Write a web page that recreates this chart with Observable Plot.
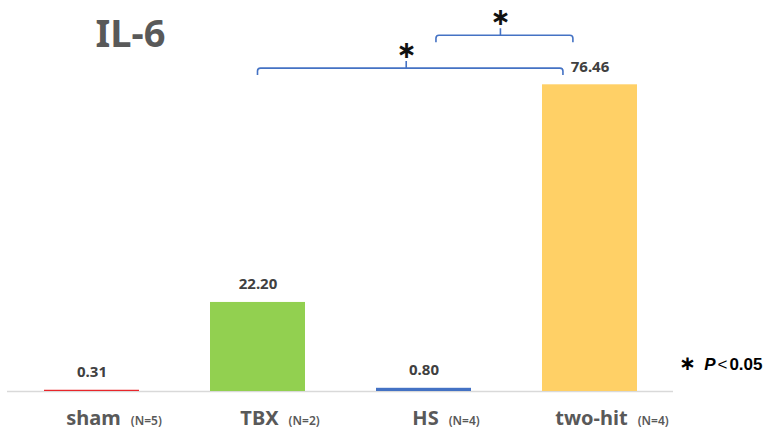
<!DOCTYPE html>
<html><head><meta charset="utf-8">
<script src="https://cdn.jsdelivr.net/npm/d3@7"></script>
<script src="https://cdn.jsdelivr.net/npm/@observablehq/plot@0.6"></script>
<style>
body{margin:0;background:#fff;}
#chart{width:763px;height:434px;}
</style>
</head><body><div id="chart"></div>
<script>
// ---- data ----
const title = "IL-6";
const categories = ["sham", "TBX", "HS", "two-hit"];
const sampleSizes = ["(N=5)", "(N=2)", "(N=4)", "(N=4)"];
const values = [0.31, 22.20, 0.80, 76.46];
const valueLabels = ["0.31", "22.20", "0.80", "76.46"];
const barColors = ["#e8262b", "#92d050", "#4472c4", "#ffd066"];
const comparisonsFrom = ["TBX", "HS"];
const comparisonsTo = ["two-hit", "two-hit"];
const comparisonLevels = [80.5, 88.7];
const comparisonMarks = ["∗", "∗"];
const noteParts = ["∗", "P", "<", "0.05"];

// ---- styles / layout ----
const bracketShift = [[0, -0.16], [0.075, -0.10]]; // fraction of band step
const FONT = "'Noto Sans', 'Noto Sans CJK JP', sans-serif";
const STAR_FONT = "'DejaVu Sans', sans-serif";
const table = categories.map((c, i) => ({category: c, value: values[i], label: valueLabels[i], n: sampleSizes[i], color: barColors[i]}));

function bracketMark(index, scales, vals, dims) {
  const x = scales.x, y = scales.y;
  const step = x.step ? x.step() : (dims.width - dims.marginLeft - dims.marginRight) / categories.length;
  const bw = x.bandwidth ? x.bandwidth() : 0;
  const g = d3.create("svg:g");
  comparisonsFrom.forEach((from, k) => {
    const x1 = x(from) + bw / 2 + bracketShift[k][0] * step;
    const x2 = x(comparisonsTo[k]) + bw / 2 + bracketShift[k][1] * step;
    const yl = y(comparisonLevels[k]);
    const xm = (x1 + x2) / 2 - 4;
    const r = 3, drop = 7, tick = 7;
    g.append("path")
      .attr("fill", "none").attr("stroke", "#4472c4").attr("stroke-width", 1.6)
      .attr("d", `M${x1},${yl + drop}V${yl + r}Q${x1},${yl} ${x1 + r},${yl}H${x2 - r}Q${x2},${yl} ${x2},${yl + r}V${yl + drop}M${xm},${yl}V${yl - tick}`);
    g.append("text")
      .attr("x", xm).attr("y", yl - tick - 11)
      .attr("text-anchor", "middle").attr("dominant-baseline", "central")
      .attr("font-family", STAR_FONT).attr("font-weight", 700).attr("font-size", 24).attr("fill", "#111")
      .text(comparisonMarks[k]);
  });
  return g.node();
}

function richLabels(index, scales, vals, dims, ctx, next) {
  const g = next(index, scales, vals, dims, ctx);
  d3.select(g).selectAll("text").each(function(_, j) {
    const d = table[index[j]];
    const t = d3.select(this);
    t.text(null);
    t.append("tspan").attr("font-size", 20).text(d.category);
    t.append("tspan").attr("font-size", 12).attr("dx", 10).attr("font-weight", 600).text(d.n);
  });
  return g;
}

function richNote(index, scales, vals, dims, ctx, next) {
  const g = next(index, scales, vals, dims, ctx);
  d3.select(g).selectAll("text").each(function() {
    const t = d3.select(this);
    t.text(null);
    t.append("tspan").attr("font-size", 20).attr("font-family", STAR_FONT).text(noteParts[0]);
    t.append("tspan").attr("dx", 8).attr("font-style", "italic").attr("font-family", "'Liberation Sans', Arial, sans-serif").attr("font-size", 17).text(noteParts[1]);
    t.append("tspan").attr("dx", 2).attr("font-weight", 400).attr("font-family", "'Liberation Sans', Arial, sans-serif").attr("font-size", 17).text(noteParts[2]);
    t.append("tspan").attr("dx", 2).attr("font-size", 17).attr("font-family", "'Liberation Sans', Arial, sans-serif").text(noteParts[3]);
  });
  return g;
}

const chart = Plot.plot({
  width: 763,
  height: 434,
  marginLeft: 7,
  marginRight: 90,
  marginTop: 30,
  marginBottom: 43,
  style: {fontFamily: FONT, background: "#fff", overflow: "visible"},
  x: {type: "band", domain: categories, paddingInner: 0.43, paddingOuter: 0.215, axis: null},
  y: {domain: [0, 90], axis: null},
  color: {type: "identity"},
  marks: [
    Plot.ruleY([0], {stroke: "#d9d9d9", strokeWidth: 1.3}),
    Plot.barY(table, {x: "category", y: "value", fill: "color"}),
    Plot.text(table, {x: "category", y: "value", text: "label", dy: -18, lineAnchor: "middle",
      fontSize: 15, fontWeight: 700, fill: "#404040"}),
    Plot.text(table, {x: "category", frameAnchor: "bottom", text: "category", dx: 22, dy: 30, lineAnchor: "middle",
      fontWeight: 700, fill: "#595959", render: richLabels}),
    Plot.text([title], {frameAnchor: "top-left", dx: 88, dy: 4, textAnchor: "start", lineAnchor: "middle",
      fontSize: 38, fontWeight: 700, fill: "#595959"}),
    Plot.text([noteParts.join("")], {frameAnchor: "bottom-right", dx: 89, dy: -25, textAnchor: "end", lineAnchor: "middle",
      fontWeight: 700, fill: "#000", render: richNote}),
    bracketMark
  ]
});
document.getElementById("chart").append(chart);
</script>
</body></html>
